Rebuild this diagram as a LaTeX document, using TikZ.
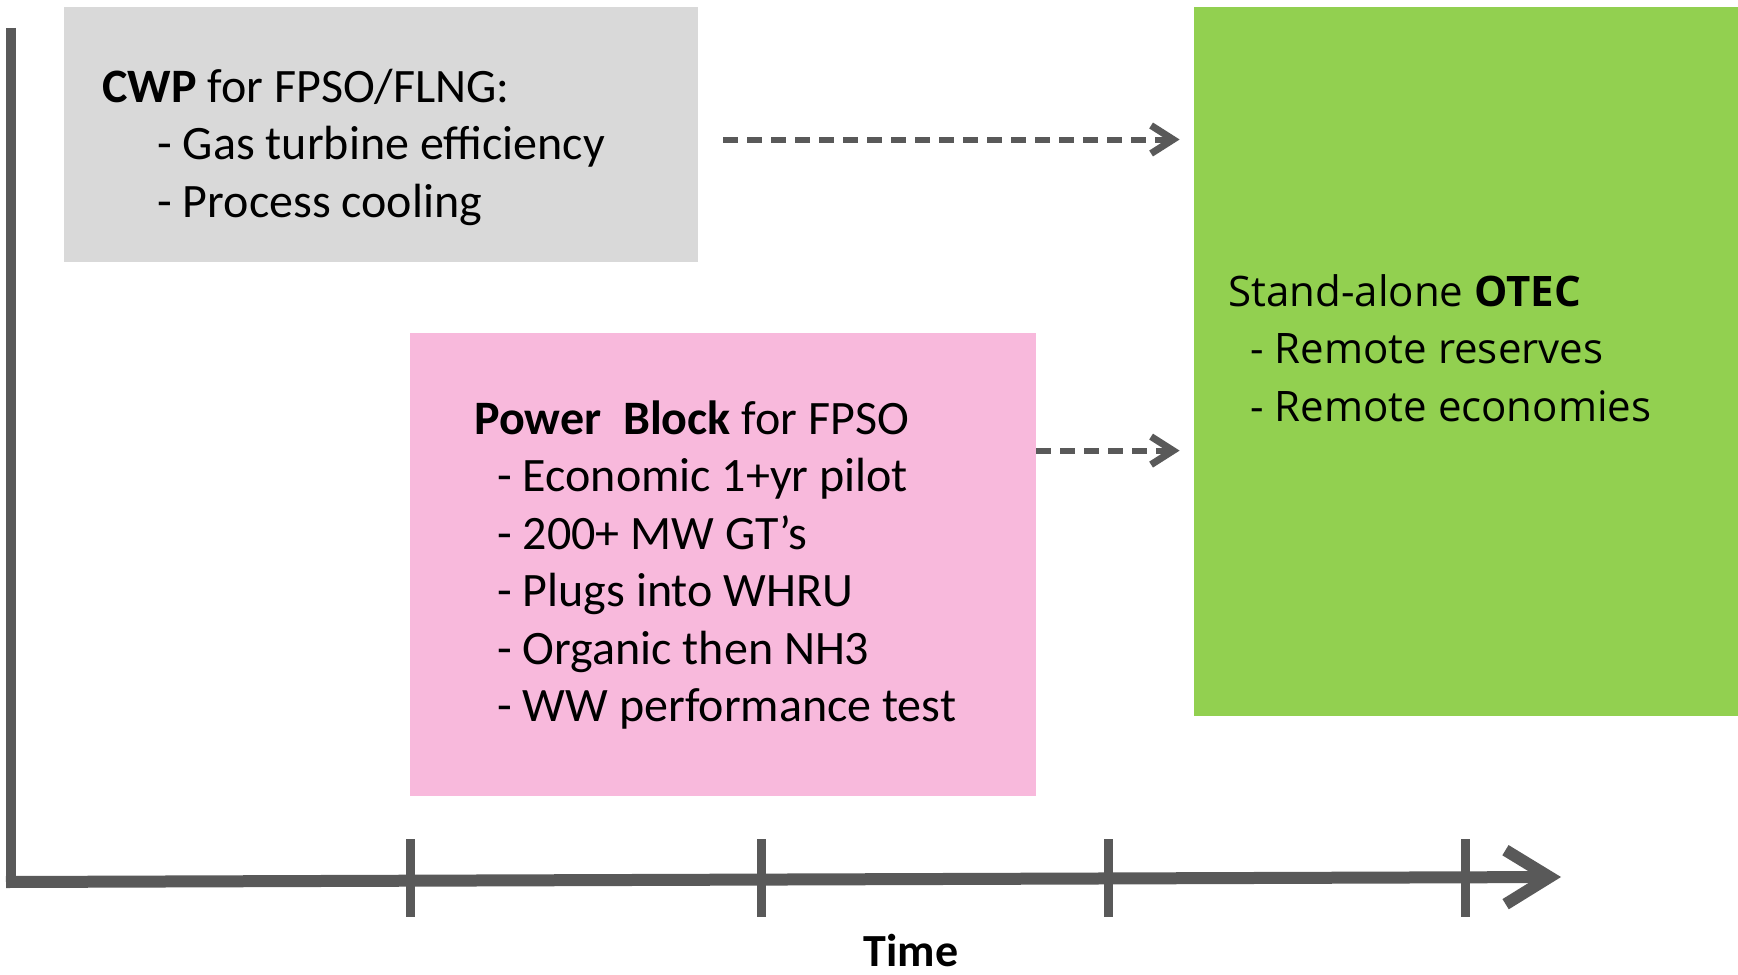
\documentclass[tikz,border=0pt]{standalone}
\usepackage{fontspec}
\setmainfont{Carlito}
\newfontfamily\otecfont{Open Sans}
\usepackage{tikz}
\usetikzlibrary{positioning,arrows.meta,calc}
\definecolor{cwpgray}{HTML}{D9D9D9}
\definecolor{pbpink}{HTML}{F8B9DC}
\definecolor{otecgreen}{HTML}{92D050}
\definecolor{axisgray}{HTML}{595959}
\tikzset{box/.style={rectangle,inner sep=0pt,draw=none},
    blurb/.style={anchor=base west,inner sep=0pt,align=left,font=\fontsize{24}{28.7}\selectfont},
    flow/.style={axisgray,line width=3pt,dash pattern=on 7.5pt off 4.5pt,-{Straight Barb[length=11pt,width=14pt,line width=3.5pt]}},
    axis/.style={axisgray,line width=6pt},
    tickmark/.style={axisgray,line width=4.5pt}}

\begin{document}
\begin{tikzpicture}[x=0.5pt,y=-0.5pt]
    \useasboundingbox (0,0) rectangle (1738,974);
    % boxes
    \node[box,fill=cwpgray,minimum width=317pt,minimum height=127.5pt](cwp) at (381,134.5) {};
    \node[box,fill=pbpink,minimum width=313pt,minimum height=231.5pt](pblock) at (723,564.5) {};
    \node[box,fill=otecgreen,minimum width=272pt,minimum height=354.5pt](otec) at (1466,361.5) {};

    % texts, anchored at the baseline of their last line
    \node[blurb](cwptext) at (102,217) {\textbf{CWP} for FPSO/FLNG:\\
        \hspace*{27.5pt}- Gas turbine efficiency\\
        \hspace*{27.5pt}- Process cooling};
    \node[blurb](pbtext) at (474,721.5) {\textbf{Power\ \ Block} for FPSO\\
        \hspace*{11.5pt}- Economic 1+yr pilot\\
        \hspace*{11.5pt}- 200+ MW GT’s\\
        \hspace*{11.5pt}- Plugs into WHRU\\
        \hspace*{11.5pt}- Organic then NH3\\
        \hspace*{11.5pt}- WW performance test};
    \node[blurb,font=\otecfont\fontsize{21}{28.7}\selectfont](otectext) at (1228,421) {Stand-alone \textbf{OTEC}\\
        \hspace*{11pt}- Remote reserves\\
        \hspace*{11pt}- Remote economies};

    % arrows into the stand-alone box
    \draw[flow,shorten <=12.5pt,shorten >=7pt] ([yshift=-2.5pt]cwp.east) -- ([yshift=-2.5pt]cwp.east -| otec.west);
    \draw[flow,shorten >=7pt] ([yshift=-59pt]pblock.north east) -- ([yshift=-59pt]pblock.north east -| otec.west);

    % time axis
    \coordinate (ytop) at (11,28);
    \coordinate (origin) at (11,882);
    \coordinate (xend) at (1561,877);
    \draw[axisgray,line width=5pt] (ytop) -- (origin);
    \draw[axis,-{Straight Barb[length=22pt,width=27pt]}] ([xshift=-2.5pt]origin) -- (xend);
    \foreach \tx in {410,761,1108,1465}
        \draw[tickmark] (\tx,839) -- (\tx,917);
    \node[anchor=base,inner sep=0pt,font=\fontsize{23}{28}\selectfont\bfseries](time) at (911,966) {Time};
\end{tikzpicture}
\end{document}
